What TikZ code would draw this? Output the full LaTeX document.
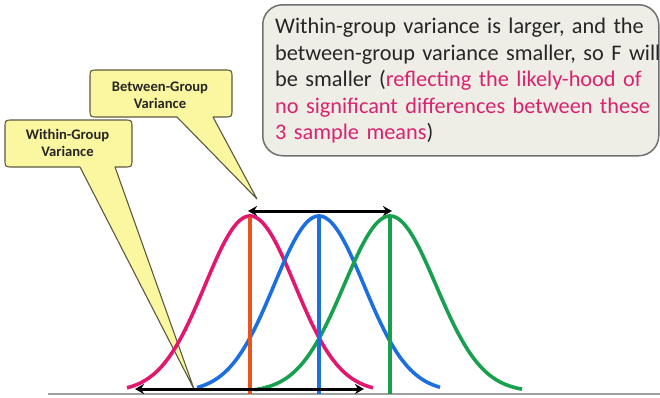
\documentclass[tikz,border=0pt]{standalone}
\usepackage{fontspec}
\setmainfont{Carlito}
\usetikzlibrary{arrows.meta}
\definecolor{boxfill}{HTML}{EEEDE6}
\definecolor{boxedge}{HTML}{707070}
\definecolor{callfill}{HTML}{FBF7A0}
\definecolor{calledge}{HTML}{5A5A40}
\definecolor{pinkc}{HTML}{E2186F}
\definecolor{pinktext}{HTML}{D9236F}
\definecolor{redline}{HTML}{E8541C}
\definecolor{bluec}{HTML}{1D6FE0}
\definecolor{greenc}{HTML}{17A04E}
\definecolor{basegray}{HTML}{A0A0A0}
\tikzset{
  callout/.style={fill=callfill, draw=calledge, line width=1.1pt, line join=round},
  calltext/.style={font=\fontsize{14.6}{17}\selectfont\bfseries, text=black!85, align=center, inner sep=0pt},
  curve/.style={line width=3.6pt},
  meanline/.style={line width=3.3pt},
  dblarrow/.style={line width=3pt, {Stealth[length=9pt,width=10pt]}-{Stealth[length=9pt,width=10pt]}},
}
\begin{document}
\begin{tikzpicture}[x=1pt,y=-1pt]
\useasboundingbox (0,0) rectangle (660,397);
% baseline
\draw[basegray, line width=2pt] (48,394) -- (660,394);
% text box
\node[draw=boxedge, fill=boxfill, line width=1.5pt, rounded corners=20pt,
      minimum width=396pt, minimum height=151pt, anchor=north west, inner sep=0pt] (tbox) at (262,4) {};
\node[anchor=north west, inner sep=0pt, align=left, text width=390pt,
      font=\fontsize{22.3}{26.5}\selectfont, text=black!85] (ttext) at (275,18)
  {Within-group variance is larger, and the\\
   between-group variance smaller, so F will\\
   be smaller (\textcolor{pinktext}{reflecting the likely-hood of}\\
   \textcolor{pinktext}{no significant differences between these}\\
   \textcolor{pinktext}{3 sample means})};
% Between-group callout
\coordinate (btip) at (257,199);
\draw[callout] (177,117) -- (btip) -- (213,117) -- (224,117) .. controls (232,117) .. (232,109)
  -- (232,78) .. controls (232,70) .. (224,70) -- (98,70) .. controls (90,70) .. (90,78)
  -- (90,109) .. controls (90,117) .. (98,117) -- cycle;
\node[calltext] (btext) at (160,95) {Between-Group\\Variance};
% Within-group callout
\coordinate (wtip) at (194,389);
\draw[callout] (80,167) -- (wtip) -- (115,167) -- (124,167) .. controls (132,167) .. (132,159)
  -- (132,128) .. controls (132,120) .. (124,120) -- (13,120) .. controls (5,120) .. (5,128)
  -- (5,159) .. controls (5,167) .. (13,167) -- cycle;
\node[calltext] (wtext) at (67.5,143) {Within-Group\\Variance};
% curves
\draw[curve, pinkc] plot[domain=127:373, samples=120, smooth] (\x, {392-176*exp(-0.5*((\x-250)/45)^2)});
\draw[curve, bluec] plot[domain=197:440, samples=120, smooth] (\x, {392-176*exp(-0.5*((\x-319)/45)^2)});
\draw[curve, greenc] plot[domain=255:522, samples=120, smooth] (\x, {392-176*exp(-0.5*((\x-390)/46)^2)});
% mean lines
\coordinate (rtop) at (250,217); \coordinate (rbot) at (250,394);
\coordinate (btop) at (319,217); \coordinate (bbot) at (319,394);
\coordinate (gtop) at (390,217); \coordinate (gbot) at (390,394);
\draw[meanline, redline] (rtop) -- (rbot);
\draw[meanline, bluec] (btop) -- (bbot);
\draw[meanline, greenc] (gtop) -- (gbot);
% arrows
\coordinate (a1) at (248,211); \coordinate (a2) at (392,211);
\draw[dblarrow] (a1) -- (a2);
\coordinate (c1) at (135,389); \coordinate (c2) at (364,389);
\draw[dblarrow] (c1) -- (c2);
\end{tikzpicture}
\end{document}
